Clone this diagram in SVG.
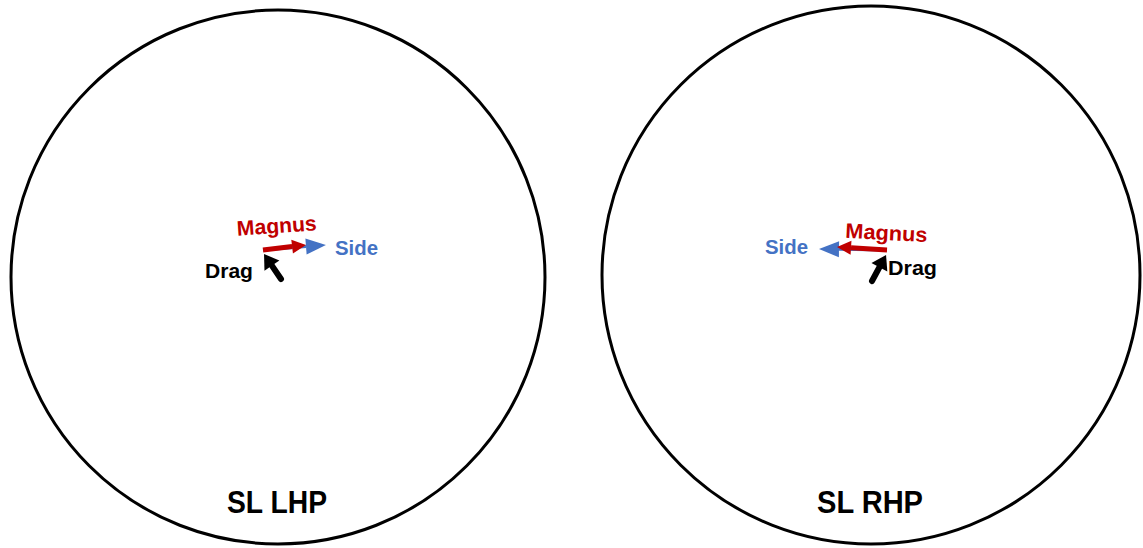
<svg xmlns="http://www.w3.org/2000/svg" width="1143" height="548" viewBox="0 0 1143 548">
  <style>
    .ball { fill: none; stroke: #000; stroke-width: 3; }
    .lbl { font-family: "Liberation Sans", Arial, sans-serif; font-weight: bold; font-size: 21px; }
    .title { font-family: "Liberation Sans", Arial, sans-serif; font-weight: bold; font-size: 32px; fill: #000; }
    .magnus { fill: #C00000; }
    .side { fill: #4472C4; }
    .drag { fill: #000; }
    .vec-red { stroke: #C00000; stroke-width: 5; fill: none; }
    .vec-blue { stroke: #4472C4; stroke-width: 3; fill: none; }
    .vec-black { stroke: #000; stroke-width: 6; fill: none; stroke-linecap: round; }
  </style>
  <defs>
    <marker id="head-red" markerUnits="userSpaceOnUse" markerWidth="14" markerHeight="14" refX="0" refY="7" orient="auto" overflow="visible">
      <path d="M0,0 L14,7 L0,14 z" fill="#C00000"/>
    </marker>
    <marker id="head-blue" markerUnits="userSpaceOnUse" markerWidth="20" markerHeight="16" refX="0" refY="8" orient="auto" overflow="visible">
      <path d="M0,0 L20,8 L0,16 z" fill="#4472C4"/>
    </marker>
    <marker id="head-black" markerUnits="userSpaceOnUse" markerWidth="14" markerHeight="18" refX="0" refY="9" orient="auto" overflow="visible">
      <path d="M0,0 L14,9 L0,18 z" fill="#000"/>
    </marker>
  </defs>

  <rect width="1143" height="548" fill="#fff"/>

  <!-- left ball -->
  <g id="ball-lhp">
    <circle class="ball" cx="278" cy="277" r="267"/>
    <text class="title" x="227" y="513" textLength="100" lengthAdjust="spacingAndGlyphs">SL LHP</text>
  </g>

  <!-- right ball -->
  <g id="ball-rhp">
    <circle class="ball" cx="871" cy="275" r="269"/>
    <text class="title" x="817" y="513" textLength="106" lengthAdjust="spacingAndGlyphs">SL RHP</text>
  </g>

  <!-- force vectors -->
  <g id="vectors">
    <g id="vectors-lhp">
      <line class="vec-blue" x1="263" y1="250" x2="306" y2="246.6" marker-end="url(#head-blue)"/>
      <line class="vec-red" x1="263" y1="250" x2="292.1" y2="246.6" marker-end="url(#head-red)"/>
      <line class="vec-black" x1="281" y1="279" x2="271.9" y2="265.6" marker-end="url(#head-black)"/>
    </g>
    <g id="vectors-rhp">
      <line class="vec-blue" x1="887" y1="250" x2="839" y2="249.3" marker-end="url(#head-blue)"/>
      <line class="vec-red" x1="887" y1="250" x2="851" y2="247.8" marker-end="url(#head-red)"/>
      <line class="vec-black" x1="872" y1="281" x2="879.4" y2="267.3" marker-end="url(#head-black)"/>
    </g>
  </g>

  <!-- vector labels -->
  <g id="labels-lhp">
    <text class="lbl magnus" x="237" y="233" textLength="80" lengthAdjust="spacingAndGlyphs" transform="rotate(-4 277 230)">Magnus</text>
    <text class="lbl side" x="335" y="255" textLength="43" lengthAdjust="spacingAndGlyphs">Side</text>
    <text class="lbl drag" x="205" y="278" textLength="48" lengthAdjust="spacingAndGlyphs">Drag</text>
  </g>
  <g id="labels-rhp">
    <text class="lbl magnus" x="845" y="240" textLength="82" lengthAdjust="spacingAndGlyphs" transform="rotate(3 886 241)">Magnus</text>
    <text class="lbl side" x="765" y="254" textLength="43" lengthAdjust="spacingAndGlyphs">Side</text>
    <text class="lbl drag" x="888" y="275" textLength="49" lengthAdjust="spacingAndGlyphs">Drag</text>
  </g>
</svg>
